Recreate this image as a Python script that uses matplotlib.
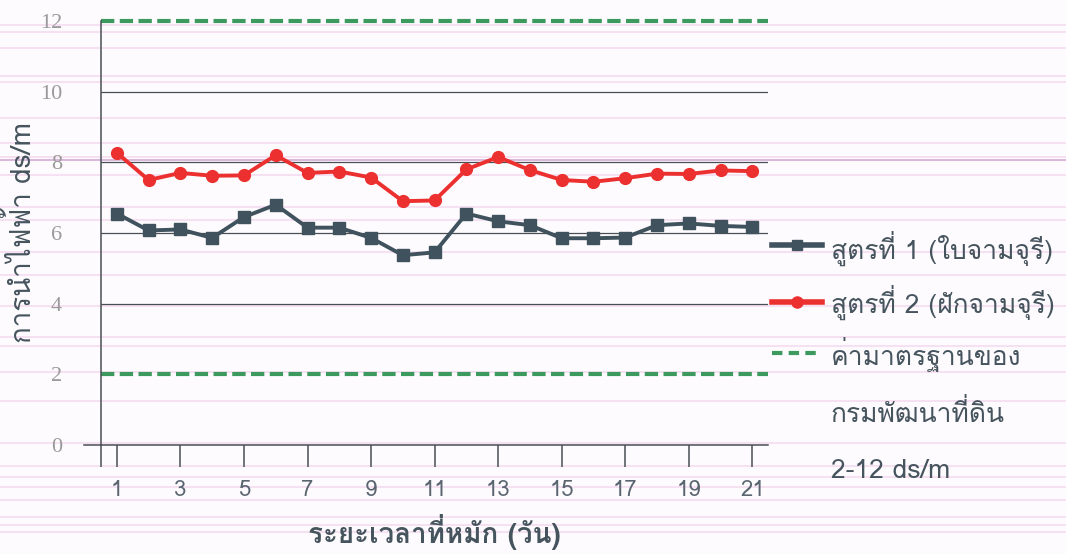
import matplotlib

matplotlib.use("Agg")

import matplotlib.pyplot as plt
from matplotlib.lines import Line2D

THAI_FONT = ["Loma", "DejaVu Sans"]

days = list(range(1, 22))
formula_1 = [6.55, 6.07, 6.10, 5.86, 6.45, 6.80, 6.15, 6.15, 5.86, 5.37, 5.45,
             6.55, 6.33, 6.22, 5.85, 5.85, 5.87, 6.22, 6.27, 6.20, 6.17]
formula_2 = [8.27, 7.50, 7.70, 7.62, 7.63, 8.20, 7.70, 7.74, 7.57, 6.90, 6.92,
             7.80, 8.15, 7.78, 7.50, 7.45, 7.55, 7.68, 7.67, 7.77, 7.75]
standard_low = 2
standard_high = 12

label_1 = "สูตรที่ 1 (ใบจามจุรี)"
label_2 = "สูตรที่ 2 (ฝักจามจุรี)"
label_std = ["ค่ามาตรฐานของ", "กรมพัฒนาที่ดิน", "2-12 ds/m"]
x_label = "ระยะเวลาที่หมัก (วัน)"
y_label = "การนำไฟฟ้า ds/m"
x_ticks = list(range(1, 22, 2))
y_ticks = [0, 2, 4, 6, 8, 10, 12]

# ruled paper lines behind the chart (figure pixel rows from the top)
paper_rows = [25, 32, 48, 76, 82, 118, 143, 157, 175, 207, 220, 252, 275,
              306, 337, 346, 372, 401, 443, 466, 477, 487, 500, 517, 525, 532]

W, H = 1066, 554
TEXT_COLOR = "#46545e"
C1, C2, C_STD = "#3f525e", "#ec2f2f", "#3c9a5f"


def fy(row):
    return 1 - row / H


fig = plt.figure(figsize=(W / 100, H / 100), dpi=100)
fig.patch.set_facecolor("#fdfbfd")

for row in paper_rows:
    fig.add_artist(Line2D([0, 1], [fy(row)] * 2, transform=fig.transFigure,
                          color="#f0c8ea", lw=1.2, alpha=0.6, zorder=0))
fig.add_artist(Line2D([0, 1], [fy(160)] * 2, transform=fig.transFigure,
                      color="#c890c8", lw=1.3, alpha=0.7, zorder=0))

ax = fig.add_axes([0.0947, 0.197, 0.626, 0.765])
ax.set_facecolor("none")
ax.set_xlim(0.5, 21.5)
ax.set_ylim(0, 12)

for v in [4, 6, 8, 10]:
    ax.axhline(v, color="#4a4f55", lw=0.9, zorder=1)

for v in [standard_low, standard_high]:
    ax.axhline(v, color=C_STD, lw=3, ls=(0, (3.2, 1.3)), zorder=2, clip_on=False)

ax.plot(days, formula_1, color=C1, lw=2.8, marker="s", markersize=8, zorder=3)
ax.plot(days, formula_2, color=C2, lw=2.8, marker="o", markersize=8.5, zorder=3)

for side in ["top", "right"]:
    ax.spines[side].set_visible(False)
for side in ["left", "bottom"]:
    ax.spines[side].set_color("#4a4f55")
    ax.spines[side].set_linewidth(1.1)
ax.add_artist(Line2D([-0.025, 0], [0, 0], transform=ax.transAxes, color="#4a4f55",
                     lw=1.1, clip_on=False))

ax.set_xticks([0.5] + x_ticks)
ax.set_xticklabels([""] + [str(t) for t in x_ticks], fontsize=16, color="#5a6570",
                   family=THAI_FONT)
ax.tick_params(axis="x", length=16, width=1.1, color="#4a4f55", pad=9)
ax.set_yticks(y_ticks)
ax.set_yticklabels([str(t) for t in y_ticks], fontsize=16, color="#9a9a9a",
                   family="Liberation Serif")
ax.tick_params(axis="y", length=0, pad=28)

ax.set_xlabel(x_label, fontsize=20, color=TEXT_COLOR, family=THAI_FONT,
              fontweight="bold", labelpad=10)
ax.set_ylabel(y_label, fontsize=20, color=TEXT_COLOR, family=THAI_FONT, labelpad=2)

# legend drawn by hand so the rows can follow the page spacing
handles = [
    dict(color=C1, lw=4, marker="s", markersize=7, markevery=[1]),
    dict(color=C2, lw=4, marker="o", markersize=8, markevery=[1]),
    dict(color=C_STD, lw=3, ls=(0, (2.5, 1.5))),
]
handle_rows = [245, 302, 353]
for style, row in zip(handles, handle_rows):
    fig.add_artist(Line2D([772 / W, 797 / W, 822 / W], [fy(row)] * 3,
                          transform=fig.transFigure, **style))

legend_lines = [label_1, label_2] + label_std
baselines = [259, 313, 365, 422, 478]
for text, row in zip(legend_lines, baselines):
    fig.text(831 / W, fy(row), text, fontsize=19, color=TEXT_COLOR,
             family=THAI_FONT, va="baseline")

fig.savefig("out.png", dpi=100)
